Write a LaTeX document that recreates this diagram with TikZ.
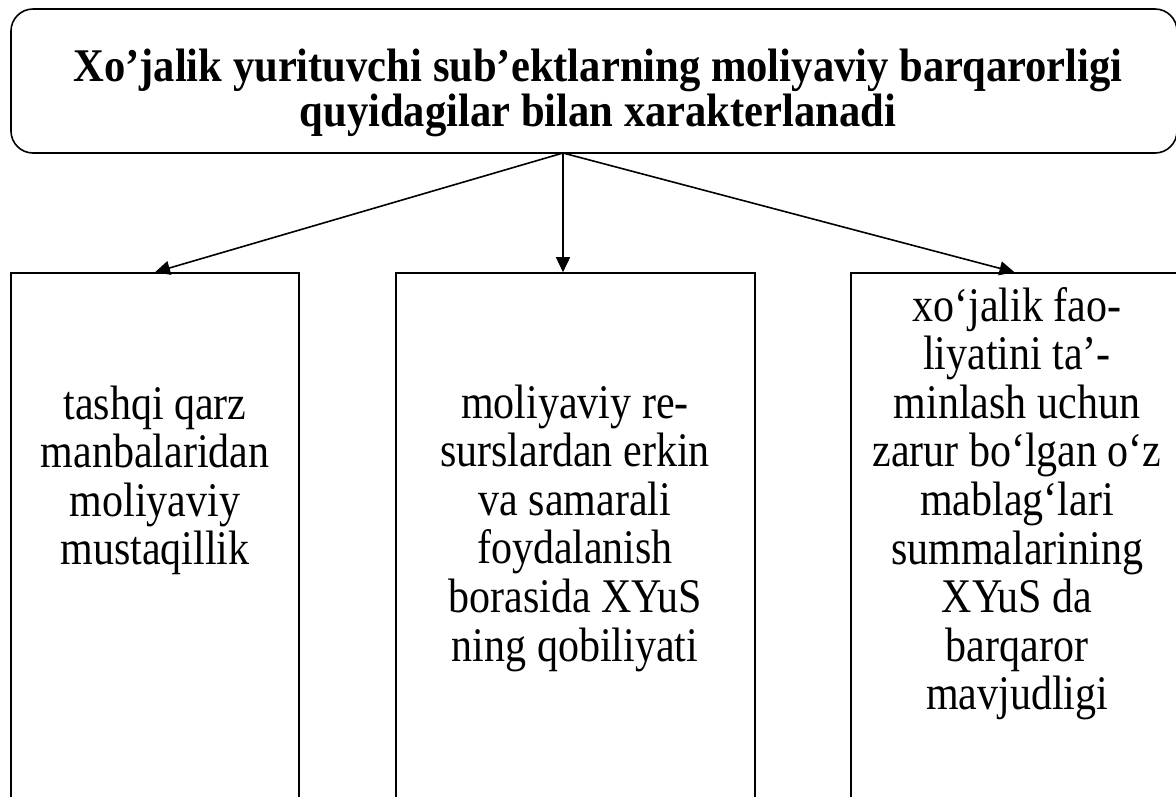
\documentclass[tikz,border=0pt]{standalone}
\usepackage{graphicx}
\usepackage{fontspec}
\setmainfont{Liberation Serif}
\usetikzlibrary{arrows.meta}
\newcommand{\stretchtext}[3]{\scalebox{1}[#1]{\parbox[t]{#2}{\centering #3}}}
\begin{document}
\begin{tikzpicture}[x=1pt,y=-1pt,
  box/.style={draw, line width=1.6pt, inner sep=0pt},
  lbl/.style={font=\fontsize{42}{42.26}\selectfont, inner sep=0pt, anchor=base},
  ttl/.style={font=\bfseries\fontsize{42.6}{41.8}\selectfont, inner sep=0pt, anchor=base},
  arr/.style={line width=1.6pt, -{Triangle[length=15pt,width=14pt]}}]
\useasboundingbox (0,0) rectangle (1176,796);
\clip (0,0) rectangle (1176,796);
\node[box, rounded corners=22pt, minimum width=1166pt, minimum height=144pt] (title) at (594,81) {};
\node[ttl] (titletext) at (598,81) {\stretchtext{1.1}{1150pt}{Xo’jalik yurituvchi sub’ektlarning moliyaviy barqarorligi\\quyidagilar bilan xarakterlanadi}};
\node[box, minimum width=288pt, minimum height=537pt] (left) at (155,541.5) {};
\node[box, minimum width=359pt, minimum height=537pt] (mid) at (575.5,541.5) {};
\node[box, minimum width=327pt, minimum height=537pt] (right) at (1014.5,541.5) {};
\node[lbl] (lefttext) at (155,419) {\stretchtext{1.15}{320pt}{tashqi qarz\\manbalaridan\\moliyaviy\\mustaqillik}};
\node[lbl] (midtext) at (575,418) {\stretchtext{1.15}{340pt}{moliyaviy re-\\surslardan erkin\\va samarali\\foydalanish\\borasida XYuS\\ning qobiliyati}};
\node[lbl] (righttext) at (1017,321) {\stretchtext{1.15}{320pt}{xo‘jalik fao-\\liyatini ta’-\\minlash uchun\\zarur bo‘lgan o‘z\\mablag‘lari\\summalarining\\XYuS da\\barqaror\\mavjudligi}};
\coordinate (o) at (563,153);
\draw[arr] (o) -- (left.north);
\draw[arr] (o) -- (o |- mid.north);
\draw[arr] (o) -- (right.north);
\end{tikzpicture}
\end{document}
